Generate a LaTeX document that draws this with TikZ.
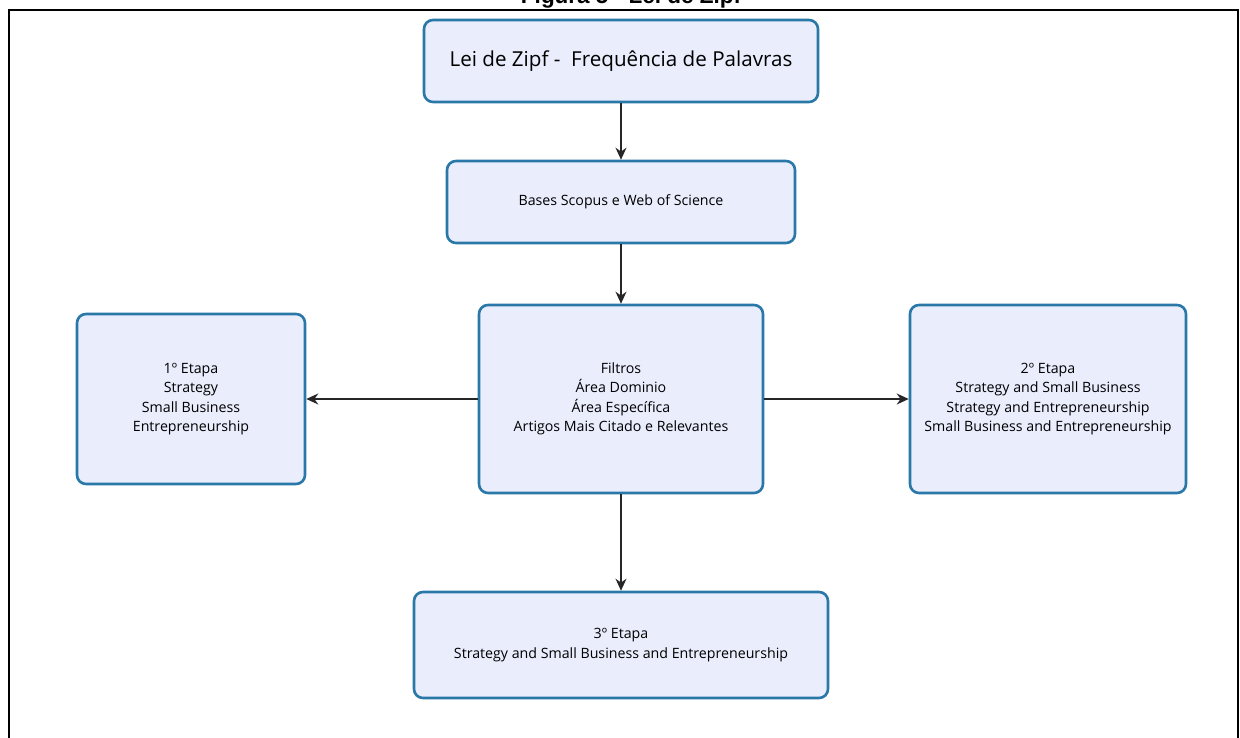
\documentclass[tikz,border=0pt]{standalone}
\usepackage{fontspec}
\setmainfont{Open Sans}
\newfontfamily\titlefont{Liberation Sans}
\usetikzlibrary{arrows.meta}
\definecolor{boxfill}{HTML}{E9EDFC}
\definecolor{boxline}{HTML}{2A78A8}
\tikzset{
  stagebox/.style={draw=boxline, fill=boxfill, line width=2.6pt, rounded corners=9pt,
    align=center, inner sep=0pt, font=\fontsize{14.2}{19.5}\selectfont},
  link/.style={line width=1.3pt, draw=black!85, -{Stealth[length=12pt,width=11pt]}},
}
\begin{document}
\begin{tikzpicture}[x=1pt, y=-1pt]
  \useasboundingbox (0,0) rectangle (1240,738);
  \clip (0,0) rectangle (1240,738);
  % caption above the frame, cut at the top edge
  \node[anchor=base, font=\titlefont\bfseries\fontsize{22.5}{26}\selectfont] (caption) at (631,3.5) {Figura 5 - Lei de Zipf};
  % outer frame
  \draw[line width=2.6pt] (9,745) -- (9,10) -- (1238,10) -- (1238,745);
  % stages
  \node[stagebox, minimum width=394pt, minimum height=82pt, font=\fontsize{20.6}{24}\selectfont] (zipf) at (621,61) {Lei de Zipf -\ \ Frequência de Palavras};
  \node[stagebox, minimum width=348pt, minimum height=82pt] (bases) at (621,202) {Bases Scopus e Web of Science};
  \node[stagebox, minimum width=284pt, minimum height=188pt] (filtros) at (621,399) {Filtros\\Área Dominio\\Área Específica\\Artigos Mais Citado e Relevantes};
  \node[stagebox, minimum width=228pt, minimum height=170pt] (etapa1) at (191,399) {1º Etapa\\Strategy\\Small Business\\Entrepreneurship};
  \node[stagebox, minimum width=276pt, minimum height=188pt] (etapa2) at (1048,399) {2º Etapa\\Strategy and Small Business\\Strategy and Entrepreneurship\\Small Business and Entrepreneurship};
  \node[stagebox, minimum width=414pt, minimum height=106pt] (etapa3) at (621,645) {3º Etapa\\Strategy and Small Business and Entrepreneurship};
  % connectors
  \draw[link] (zipf.south) -- (bases.north);
  \draw[link] (bases.south) -- (filtros.north);
  \draw[link] (filtros.west) -- (etapa1.east);
  \draw[link] (filtros.east) -- (etapa2.west);
  \draw[link] (filtros.south) -- (etapa3.north);
\end{tikzpicture}
\end{document}
